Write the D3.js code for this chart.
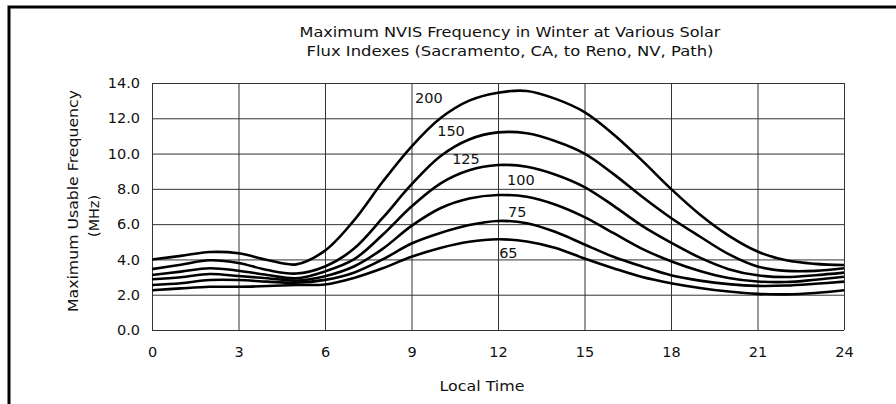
<!DOCTYPE html>
<html>
<head>
<meta charset="utf-8">
<script src="https://cdn.jsdelivr.net/npm/d3@7"></script>
<style>
  body { margin: 0; background: #fff; }
  text { font-family: "DejaVu Sans", sans-serif; fill: #111; }
</style>
</head>
<body>
<div id="chart"></div>
<script>
// chart data
var hours = [0, 1, 2, 3, 4, 5, 6, 7, 8, 9, 10, 11, 12, 13, 14, 15, 16, 17, 18, 19, 20, 21, 22, 23, 24];

var flux200 = [4.0, 4.2, 4.42, 4.35, 3.97, 3.72, 4.5, 6.2, 8.4, 10.4, 12.0, 13.0, 13.45, 13.55, 13.1, 12.35, 11.1, 9.6, 8.0, 6.55, 5.35, 4.45, 3.95, 3.75, 3.68];
var flux150 = [3.45, 3.7, 3.95, 3.8, 3.4, 3.2, 3.6, 4.6, 6.35, 8.25, 9.85, 10.8, 11.2, 11.15, 10.7, 10.0, 8.85, 7.55, 6.35, 5.3, 4.3, 3.6, 3.35, 3.35, 3.5];
var flux125 = [3.12, 3.31, 3.5, 3.36, 3.12, 2.93, 3.32, 4.0, 5.4, 7.0, 8.3, 9.05, 9.35, 9.25, 8.8, 8.1, 7.05, 5.9, 4.95, 4.1, 3.45, 3.1, 3.0, 3.1, 3.25];
var flux100 = [2.88, 2.99, 3.17, 3.06, 2.93, 2.8, 3.05, 3.6, 4.6, 5.9, 6.9, 7.45, 7.65, 7.55, 7.1, 6.4, 5.5, 4.6, 3.9, 3.35, 2.95, 2.75, 2.72, 2.85, 3.02];
var flux75 = [2.55, 2.65, 2.83, 2.83, 2.74, 2.68, 2.84, 3.25, 4.0, 4.9, 5.5, 5.95, 6.18, 6.05, 5.55, 4.85, 4.15, 3.6, 3.1, 2.8, 2.6, 2.5, 2.52, 2.62, 2.74];
var flux65 = [2.25, 2.36, 2.45, 2.45, 2.49, 2.55, 2.58, 2.95, 3.5, 4.15, 4.65, 5.0, 5.14, 5.02, 4.65, 4.05, 3.5, 3.0, 2.65, 2.38, 2.18, 2.05, 2.02, 2.1, 2.25];

// curve labels (where each label sits, in hours / MHz)
var fluxLabels = ['200', '150', '125', '100', '75', '65'];
var labelHour = [9.12, 9.89, 10.41, 12.31, 12.35, 12.04];
var labelValue = [12.87, 11.0, 9.41, 8.22, 6.41, 4.08];

var xTicks = [0, 3, 6, 9, 12, 15, 18, 21, 24];
var yTicks = [0, 2, 4, 6, 8, 10, 12, 14];

var titleLines = ['Maximum NVIS Frequency in Winter at Various Solar',
  'Flux Indexes (Sacramento, CA, to Reno, NV, Path)'];

// Set Width and Height
var svgWidth = 896;
var svgHeight = 404;

// Set Page Margin
var margin = {
  top: 83,
  right: 52,
  bottom: 74,
  left: 152
};

var width = svgWidth - margin.right - margin.left;
var height = svgHeight - margin.top - margin.bottom;

var svg = d3.select('#chart')
  .append('svg')
  .attr('width', svgWidth)
  .attr('height', svgHeight);

// outer frame (top and left edges only)
svg.append('path')
  .attr('d', 'M9,404 L9,7 L896,7')
  .attr('fill', 'none')
  .attr('stroke', '#000')
  .attr('stroke-width', 3);

var chartGroup = svg.append('g')
  .attr('transform', `translate(${margin.left}, ${margin.top})`);

// scales
var xScale = d3.scaleLinear().domain([0, 24]).range([0, width]);
var yScale = d3.scaleLinear().domain([0, 14]).range([height, 0]);

// grid lines
chartGroup.append('g')
  .call(d3.axisLeft(yScale).tickValues(yTicks).tickSize(-width).tickFormat(''))
  .call(g => g.select('.domain').remove())
  .selectAll('line')
  .attr('stroke', '#333')
  .attr('stroke-width', 1);

chartGroup.append('g')
  .attr('transform', `translate(0, ${height})`)
  .call(d3.axisBottom(xScale).tickValues(xTicks).tickSize(-height).tickFormat(''))
  .call(g => g.select('.domain').remove())
  .selectAll('line')
  .attr('stroke', '#333')
  .attr('stroke-width', 1);

// tick labels
var leftAxis = d3.axisLeft(yScale).tickValues(yTicks).tickSize(0).tickPadding(12).tickFormat(d3.format('.1f'));
chartGroup.append('g')
  .call(leftAxis)
  .call(g => g.select('.domain').remove())
  .selectAll('text')
  .style('font-family', '"DejaVu Sans", sans-serif')
  .style('font-size', '14.5px')
  .attr('fill', '#111');

var bottomAxis = d3.axisBottom(xScale).tickValues(xTicks).tickSize(0).tickPadding(17).tickFormat(d3.format('d'));
chartGroup.append('g')
  .attr('transform', `translate(0, ${height})`)
  .call(bottomAxis)
  .call(g => g.select('.domain').remove())
  .selectAll('text')
  .style('font-family', '"DejaVu Sans", sans-serif')
  .style('font-size', '14.5px')
  .attr('fill', '#111');

// curves
var series = [flux200, flux150, flux125, flux100, flux75, flux65];
var line = d3.line()
  .x((d, i) => xScale(hours[i]))
  .y(d => yScale(d))
  .curve(d3.curveCatmullRom.alpha(0.5));

chartGroup.selectAll('.curve')
  .data(series)
  .enter()
  .append('path')
  .classed('curve', true)
  .attr('d', line)
  .attr('fill', 'none')
  .attr('stroke', '#000')
  .attr('stroke-width', 2.6);

// curve labels
chartGroup.selectAll('.fluxLabel')
  .data(fluxLabels)
  .enter()
  .append('text')
  .classed('fluxLabel', true)
  .attr('x', (d, i) => xScale(labelHour[i]))
  .attr('y', (d, i) => yScale(labelValue[i]))
  .attr('font-size', '14.5px')
  .text(d => d);

// title
svg.selectAll('.title')
  .data(titleLines)
  .enter()
  .append('text')
  .classed('title', true)
  .attr('x', 510)
  .attr('y', (d, i) => 37 + i * 19)
  .attr('text-anchor', 'middle')
  .attr('font-size', '13.5px')
  .attr('textLength', (d, i) => i === 0 ? 421 : 407)
  .attr('lengthAdjust', 'spacingAndGlyphs')
  .text(d => d);

// axis titles
svg.append('text')
  .attr('transform', 'translate(78, 201) rotate(-90)')
  .attr('text-anchor', 'middle')
  .attr('font-size', '14px')
  .attr('textLength', 222)
  .attr('lengthAdjust', 'spacingAndGlyphs')
  .text('Maximum Usable Frequency');

svg.append('text')
  .attr('transform', 'translate(99, 216) rotate(-90)')
  .attr('text-anchor', 'middle')
  .attr('font-size', '14px')
  .attr('textLength', 42)
  .attr('lengthAdjust', 'spacingAndGlyphs')
  .text('(MHz)');

svg.append('text')
  .attr('x', 482)
  .attr('y', 391)
  .attr('text-anchor', 'middle')
  .attr('font-size', '13.5px')
  .attr('textLength', 85)
  .attr('lengthAdjust', 'spacingAndGlyphs')
  .text('Local Time');
</script>
</body>
</html>
